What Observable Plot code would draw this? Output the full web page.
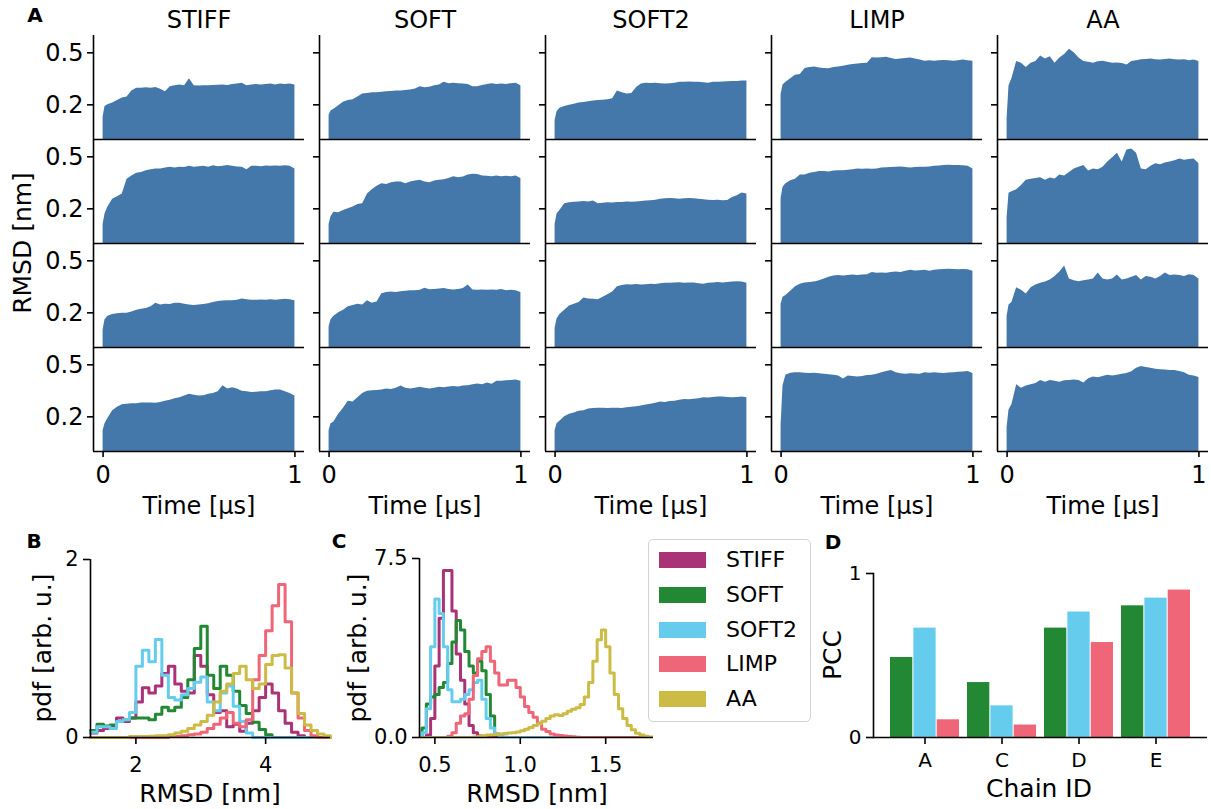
<!DOCTYPE html>
<html><head><meta charset="utf-8">
<script src="https://cdn.jsdelivr.net/npm/d3@7"></script>
<script src="https://cdn.jsdelivr.net/npm/@observablehq/plot@0.6"></script>
<style>
body{margin:0;background:#fff;}
#fig{position:relative;width:1211px;height:809px;overflow:hidden;font-family:"DejaVu Sans",sans-serif;color:#000;background:#fff;}
</style></head><body><div id="fig"></div>
<script>
// ---------- DATA ----------
const models = ["STIFF", "SOFT", "SOFT2", "LIMP", "AA"];
const modelColors = ["#AA3377", "#228833", "#66CCEE", "#EE6677", "#CCBB44"];
const runs = [1, 2, 3, 4];
const times = [0,0.01,0.025,0.05,0.075,0.1,0.125,0.15,0.175,0.2,0.225,0.25,0.275,0.3,0.325,0.35,0.375,0.4,0.425,0.45,0.475,0.5,0.525,0.55,0.575,0.6,0.625,0.65,0.675,0.7,0.725,0.75,0.775,0.8,0.825,0.85,0.875,0.9,0.925,0.95,0.975,1.0];

const rmsdStiff = [
  [0.13,0.19,0.2,0.21,0.225,0.24,0.245,0.28,0.295,0.295,0.298,0.295,0.3,0.29,0.275,0.305,0.31,0.315,0.31,0.35,0.31,0.308,0.31,0.31,0.312,0.313,0.315,0.312,0.318,0.32,0.325,0.31,0.315,0.318,0.315,0.318,0.32,0.315,0.32,0.318,0.32,0.315],
  [0.11,0.17,0.21,0.255,0.27,0.285,0.37,0.39,0.405,0.41,0.42,0.425,0.43,0.43,0.435,0.44,0.435,0.44,0.438,0.445,0.44,0.443,0.445,0.44,0.448,0.443,0.445,0.45,0.445,0.442,0.44,0.425,0.445,0.445,0.443,0.447,0.445,0.447,0.445,0.448,0.446,0.43],
  [0.1,0.16,0.18,0.19,0.195,0.197,0.198,0.205,0.215,0.22,0.225,0.235,0.255,0.245,0.25,0.248,0.255,0.255,0.25,0.245,0.243,0.245,0.248,0.252,0.26,0.265,0.268,0.27,0.27,0.272,0.28,0.275,0.273,0.272,0.274,0.272,0.275,0.272,0.276,0.278,0.275,0.27],
  [0.12,0.16,0.19,0.235,0.255,0.27,0.272,0.275,0.275,0.28,0.28,0.28,0.278,0.282,0.29,0.295,0.305,0.31,0.32,0.33,0.325,0.32,0.322,0.33,0.335,0.345,0.38,0.36,0.368,0.36,0.348,0.345,0.34,0.342,0.345,0.345,0.35,0.355,0.355,0.345,0.335,0.32]
];
const rmsdSoft = [
  [0.14,0.165,0.175,0.195,0.215,0.225,0.23,0.245,0.262,0.265,0.27,0.27,0.272,0.275,0.277,0.28,0.28,0.283,0.285,0.292,0.305,0.298,0.302,0.31,0.315,0.33,0.322,0.325,0.322,0.32,0.318,0.305,0.305,0.312,0.318,0.322,0.318,0.32,0.318,0.322,0.325,0.31],
  [0.11,0.155,0.18,0.178,0.19,0.2,0.21,0.225,0.23,0.285,0.31,0.33,0.345,0.34,0.35,0.355,0.355,0.345,0.355,0.36,0.365,0.355,0.35,0.36,0.365,0.368,0.375,0.385,0.38,0.383,0.395,0.4,0.398,0.39,0.388,0.385,0.39,0.385,0.388,0.385,0.39,0.375],
  [0.12,0.16,0.18,0.2,0.215,0.235,0.242,0.25,0.245,0.27,0.255,0.262,0.31,0.318,0.32,0.318,0.322,0.325,0.327,0.328,0.33,0.342,0.333,0.335,0.338,0.34,0.335,0.332,0.335,0.34,0.36,0.332,0.33,0.332,0.33,0.332,0.33,0.335,0.328,0.33,0.328,0.318],
  [0.12,0.16,0.17,0.215,0.25,0.29,0.285,0.31,0.335,0.348,0.35,0.352,0.355,0.36,0.358,0.365,0.378,0.365,0.36,0.365,0.37,0.365,0.36,0.365,0.37,0.368,0.372,0.375,0.372,0.378,0.38,0.385,0.39,0.385,0.395,0.388,0.405,0.405,0.408,0.41,0.412,0.405]
];
const rmsdSoft2 = [
  [0.11,0.16,0.18,0.19,0.197,0.203,0.21,0.213,0.218,0.222,0.225,0.227,0.23,0.235,0.28,0.27,0.262,0.265,0.3,0.32,0.325,0.323,0.325,0.322,0.32,0.322,0.325,0.33,0.33,0.332,0.33,0.33,0.328,0.325,0.33,0.33,0.332,0.333,0.335,0.335,0.337,0.337],
  [0.11,0.17,0.19,0.23,0.235,0.238,0.24,0.242,0.24,0.245,0.23,0.232,0.235,0.233,0.237,0.236,0.24,0.238,0.24,0.242,0.245,0.247,0.25,0.255,0.258,0.26,0.258,0.256,0.258,0.26,0.258,0.255,0.252,0.25,0.248,0.25,0.246,0.248,0.265,0.275,0.292,0.285],
  [0.11,0.165,0.19,0.215,0.24,0.25,0.26,0.285,0.28,0.278,0.275,0.29,0.305,0.32,0.35,0.358,0.362,0.36,0.363,0.36,0.362,0.365,0.363,0.368,0.37,0.37,0.372,0.373,0.37,0.372,0.372,0.368,0.365,0.37,0.372,0.375,0.372,0.375,0.378,0.38,0.378,0.37],
  [0.12,0.16,0.175,0.2,0.215,0.222,0.232,0.235,0.245,0.248,0.25,0.25,0.248,0.25,0.25,0.248,0.252,0.255,0.258,0.262,0.268,0.272,0.278,0.285,0.283,0.288,0.29,0.295,0.3,0.298,0.302,0.305,0.31,0.308,0.312,0.315,0.315,0.312,0.31,0.312,0.315,0.31]
];
const rmsdLimp = [
  [0.26,0.315,0.33,0.35,0.37,0.375,0.41,0.415,0.418,0.412,0.41,0.408,0.415,0.418,0.422,0.428,0.432,0.435,0.438,0.44,0.472,0.47,0.472,0.475,0.468,0.462,0.465,0.468,0.47,0.465,0.458,0.452,0.455,0.452,0.455,0.456,0.455,0.452,0.455,0.458,0.455,0.452],
  [0.26,0.325,0.345,0.362,0.37,0.395,0.395,0.405,0.41,0.415,0.415,0.412,0.418,0.42,0.42,0.422,0.425,0.43,0.428,0.43,0.428,0.43,0.435,0.437,0.438,0.44,0.442,0.438,0.435,0.438,0.44,0.44,0.442,0.445,0.447,0.45,0.452,0.45,0.45,0.448,0.445,0.43],
  [0.25,0.29,0.3,0.325,0.35,0.365,0.372,0.375,0.378,0.385,0.395,0.405,0.412,0.415,0.412,0.415,0.418,0.415,0.418,0.42,0.432,0.428,0.43,0.428,0.432,0.435,0.432,0.44,0.445,0.442,0.443,0.445,0.44,0.445,0.448,0.45,0.452,0.45,0.448,0.45,0.448,0.44],
  [0.15,0.38,0.44,0.452,0.455,0.455,0.452,0.45,0.452,0.448,0.445,0.443,0.44,0.435,0.418,0.435,0.432,0.43,0.432,0.438,0.44,0.445,0.455,0.462,0.468,0.455,0.448,0.445,0.448,0.447,0.445,0.455,0.452,0.455,0.452,0.45,0.453,0.455,0.457,0.458,0.462,0.45]
];
const rmsdAA = [
  [0.12,0.31,0.35,0.45,0.44,0.415,0.44,0.45,0.482,0.465,0.478,0.44,0.47,0.49,0.52,0.5,0.47,0.45,0.445,0.44,0.448,0.452,0.445,0.44,0.442,0.438,0.43,0.45,0.455,0.46,0.462,0.465,0.46,0.458,0.462,0.465,0.46,0.458,0.46,0.455,0.458,0.45],
  [0.15,0.29,0.298,0.31,0.335,0.365,0.37,0.375,0.38,0.365,0.378,0.372,0.395,0.39,0.41,0.43,0.44,0.45,0.418,0.43,0.425,0.44,0.47,0.495,0.52,0.47,0.54,0.545,0.52,0.43,0.425,0.445,0.46,0.455,0.465,0.47,0.478,0.488,0.48,0.485,0.488,0.46],
  [0.18,0.245,0.26,0.345,0.33,0.308,0.345,0.36,0.37,0.378,0.39,0.41,0.435,0.47,0.395,0.385,0.38,0.385,0.39,0.395,0.43,0.395,0.39,0.395,0.418,0.39,0.395,0.405,0.415,0.39,0.41,0.405,0.395,0.41,0.43,0.415,0.418,0.415,0.41,0.42,0.415,0.395],
  [0.14,0.24,0.27,0.385,0.365,0.378,0.385,0.392,0.41,0.4,0.41,0.405,0.4,0.408,0.41,0.412,0.41,0.395,0.42,0.43,0.425,0.432,0.44,0.435,0.44,0.445,0.45,0.46,0.48,0.49,0.485,0.48,0.475,0.472,0.47,0.468,0.468,0.462,0.455,0.44,0.435,0.427]
];

// Panel B histograms (bin left edges; last value closes the step)
const bEdges = [1.3,1.4,1.5,1.6,1.7,1.8,1.9,2.0,2.1,2.2,2.3,2.4,2.5,2.6,2.7,2.8,2.9,3.0,3.1,3.2,3.3,3.4,3.5,3.6,3.7,3.8,3.9,4.0,4.1,4.2,4.3,4.4,4.5,4.6,4.7,4.8,4.9,5.0];
const bStiff = [0.05,0.08,0.1,0.12,0.22,0.18,0.22,0.4,0.56,0.5,0.58,0.72,0.8,0.6,0.52,0.5,0.92,0.8,0.48,0.28,0.3,0.12,0.15,0.07,0.16,0.3,0.45,0.6,0.5,0.3,0.16,0.06,0.02,0,0,0,0,0];
const bSoft = [0.08,0.15,0.13,0.14,0.18,0.2,0.22,0.22,0.22,0.2,0.26,0.34,0.3,0.34,0.45,0.65,1.0,1.25,0.7,0.55,0.8,0.7,0.52,0.36,0.27,0.17,0.09,0.03,0,0,0,0,0,0,0,0,0,0];
const bSoft2 = [0.06,0.12,0.12,0.1,0.18,0.2,0.28,0.8,0.98,0.85,1.1,0.7,0.45,0.42,0.48,0.55,0.62,0.68,0.4,0.3,0.5,0.58,0.35,0.18,0.05,0,0,0,0,0,0,0,0,0,0,0,0,0];
const bLimp = [0,0,0,0,0,0,0,0,0,0,0,0,0.01,0.01,0.02,0.03,0.04,0.06,0.1,0.15,0.22,0.28,0.16,0.12,0.2,0.65,0.92,1.2,1.48,1.72,1.3,0.5,0.22,0.08,0.02,0,0,0];
const bAA = [0,0,0,0,0,0,0.01,0.01,0.01,0.015,0.02,0.02,0.03,0.05,0.07,0.1,0.14,0.18,0.25,0.4,0.52,0.6,0.72,0.8,0.65,0.55,0.6,0.82,0.92,0.93,0.78,0.5,0.27,0.14,0.08,0.04,0.02,0];

// Panel C histograms
const cEdges = [0.4,0.425,0.45,0.475,0.5,0.525,0.55,0.575,0.6,0.625,0.65,0.675,0.7,0.725,0.75,0.775,0.8,0.825,0.85,0.875,0.9,0.925,0.95,0.975,1.0,1.025,1.05,1.075,1.1,1.125,1.15,1.175,1.2,1.225,1.25,1.275,1.3,1.325,1.35,1.375,1.4,1.425,1.45,1.475,1.5,1.525,1.55,1.575,1.6,1.625,1.65,1.675,1.7,1.725,1.75,1.775,1.8];
const cStiff = [0,0,0.1,0.8,3.0,5.0,7.0,7.0,5.3,3.5,2.4,1.4,0.5,0.2,0.06,0.02,0,0,0,0,0,0,0,0,0,0,0,0,0,0,0,0,0,0,0,0,0,0,0,0,0,0,0,0,0,0,0,0,0,0,0,0,0,0,0,0,0];
const cSoft = [0,0.4,1.4,1.7,1.8,2.1,2.3,3.1,4.0,4.9,4.5,3.6,3.0,2.7,3.2,2.8,1.8,0.9,0.15,0.03,0,0,0,0,0,0,0,0,0,0,0,0,0,0,0,0,0,0,0,0,0,0,0,0,0,0,0,0,0,0,0,0,0,0,0,0,0];
const cSoft2 = [0,0.2,1.2,3.8,5.8,5.2,3.8,2.0,1.5,1.5,1.6,1.8,2.0,2.3,2.4,1.6,0.8,0.4,0.15,0.05,0.02,0,0,0,0,0,0,0,0,0,0,0,0,0,0,0,0,0,0,0,0,0,0,0,0,0,0,0,0,0,0,0,0,0,0,0,0];
const cLimp = [0,0,0,0,0,0,0,0.05,0.2,0.6,0.9,1.0,1.6,2.6,3.3,3.6,3.8,3.2,2.7,2.2,2.2,2.4,2.4,2.1,1.7,1.3,1.05,0.85,0.6,0.35,0.25,0.15,0.1,0.08,0.06,0.04,0.03,0.01,0,0,0,0,0,0,0,0,0,0,0,0,0,0,0,0,0,0,0];
const cAA = [0,0,0,0,0,0,0,0,0,0,0,0,0,0.02,0.04,0.07,0.1,0.12,0.13,0.15,0.17,0.19,0.2,0.23,0.28,0.35,0.42,0.5,0.58,0.68,0.8,0.9,0.95,0.92,1.0,1.1,1.18,1.25,1.38,1.7,2.3,3.2,4.1,4.5,3.8,2.7,1.8,1.2,0.8,0.5,0.32,0.18,0.1,0.05,0.02,0.01,0];

// Panel D
const chains = ["A", "C", "D", "E"];
const pccModels = ["SOFT", "SOFT2", "LIMP"];
const pccSoft = [0.488, 0.335, 0.667, 0.803];
const pccSoft2 = [0.667, 0.193, 0.765, 0.85];
const pccLimp = [0.108, 0.076, 0.579, 0.899];

// ---------- BUILD ----------
const fig = document.getElementById("fig");
const FONT = "DejaVu Sans";
const baseStyle = {fontFamily: FONT, fontSize: "20px", color: "#000", background: "none", overflow: "visible"};
const SPINE = 1.6;
const plain = d => String(d);

function place(node, left, top) {
  node.style.position = "absolute";
  node.style.left = left + "px";
  node.style.top = top + "px";
  fig.appendChild(node);
}
function addText(txt, x, y, size, opt = {}) {
  const d = document.createElement("div");
  d.textContent = txt;
  d.style.cssText = `position:absolute;left:${x}px;top:${y}px;font-size:${size}px;font-weight:${opt.weight || "normal"};white-space:nowrap;line-height:1;transform:translate(-50%,-50%)${opt.rotate ? " rotate(-90deg)" : ""};`;
  fig.appendChild(d);
}

// Panel A
const rmsdByModel = [rmsdStiff, rmsdSoft, rmsdSoft2, rmsdLimp, rmsdAA];
const rmsdRows = [];
models.forEach((m, i) => rmsdByModel[i].forEach((vals, r) =>
  vals.forEach((v, k) => rmsdRows.push({model: m, run: runs[r], t: times[k], v}))));

const plotA = Plot.plot({
  width: 1211, height: 530,
  marginLeft: 91, marginRight: 0, marginTop: 33, marginBottom: 78,
  style: {...baseStyle, fontSize: "24px"},
  fx: {domain: models, paddingInner: 0.066, paddingOuter: 0, label: null},
  fy: {domain: runs, paddingInner: 0, paddingOuter: 0, axis: null, label: null},
  x: {domain: [-0.05, 1.05]},
  y: {domain: [0, 0.6]},
  marks: [
    Plot.areaY(rmsdRows, {fx: "model", fy: "run", x: "t", y: "v", fill: "#4477aa"}),
    Plot.ruleX([-0.05], {stroke: "#000", strokeWidth: SPINE}),
    Plot.ruleY([0], {stroke: "#000", strokeWidth: SPINE}),
    Plot.axisY({ticks: [0.2, 0.5], tickFormat: () => "", facetAnchor: null, tickSize: 6, strokeWidth: SPINE, label: null}),
    Plot.axisY({ticks: [0.2, 0.5], tickFormat: plain, tickSize: 0, tickPadding: 10, fontSize: 24, label: null}),
    Plot.axisX({ticks: [0, 1], tickFormat: plain, tickSize: 6, tickPadding: 8, fontSize: 24, strokeWidth: SPINE, label: null}),
    Plot.axisFx({anchor: "top", tickSize: 0, tickPadding: 8, fontSize: 24, label: null}),
    Plot.text(["Time [µs]"], {text: d => d, frameAnchor: "bottom", lineAnchor: "middle", dy: 55, facetAnchor: "bottom", fontSize: 24})
  ]
});
place(plotA, 0, 0);

// Panel B
const bVals = [bStiff, bSoft, bSoft2, bLimp, bAA];
const histB = [];
models.forEach((m, i) => bVals[i].forEach((v, k) => histB.push({model: m, x: bEdges[k], y: v})));
const plotB = Plot.plot({
  width: 340, height: 279,
  marginLeft: 90, marginRight: 10, marginTop: 29, marginBottom: 72,
  style: baseStyle,
  x: {domain: [1.3, 5.0]},
  y: {domain: [0, 2]},
  color: {domain: models, range: modelColors},
  marks: [
    Plot.line(histB, {x: "x", y: "y", z: "model", stroke: "model", curve: "step-after", strokeWidth: 3}),
    Plot.ruleX([1.3], {stroke: "#000", strokeWidth: SPINE}),
    Plot.ruleY([0], {stroke: "#000", strokeWidth: SPINE}),
    Plot.axisX({ticks: [2, 4], tickFormat: plain, tickSize: 7, tickPadding: 13, fontSize: 21, strokeWidth: SPINE, label: null}),
    Plot.axisY({ticks: [0, 2], tickFormat: plain, tickSize: 7, tickPadding: 5, fontSize: 21, strokeWidth: SPINE, label: null})
  ]
});
place(plotB, 0, 530);

// Panel C
const cVals = [cStiff, cSoft, cSoft2, cLimp, cAA];
const histC = [];
models.forEach((m, i) => cVals[i].forEach((v, k) => histC.push({model: m, x: cEdges[k], y: v})));
const plotC = Plot.plot({
  width: 330, height: 279,
  marginLeft: 89, marginRight: 7, marginTop: 28, marginBottom: 72,
  style: baseStyle,
  x: {domain: [0.41, 1.78]},
  y: {domain: [0, 7.5]},
  color: {domain: models, range: modelColors},
  marks: [
    Plot.line(histC, {x: "x", y: "y", z: "model", stroke: "model", curve: "step-after", strokeWidth: 3, clip: true}),
    Plot.ruleX([0.41], {stroke: "#000", strokeWidth: SPINE}),
    Plot.ruleY([0], {stroke: "#000", strokeWidth: SPINE}),
    Plot.axisX({ticks: [0.5, 1.0, 1.5], tickFormat: d => d.toFixed(1), tickSize: 7, tickPadding: 13, fontSize: 21, strokeWidth: SPINE, label: null}),
    Plot.axisY({ticks: [0, 7.5], tickFormat: d => d.toFixed(1), tickSize: 7, tickPadding: 5, fontSize: 21, strokeWidth: SPINE, label: null})
  ]
});
place(plotC, 330, 530);

// Legend
const legend = document.createElement("div");
legend.style.cssText = "width:161px;height:181px;border:1px solid #d3d3d3;border-radius:5px;background:rgba(255,255,255,0.85);";
models.forEach((m, i) => {
  const sw = document.createElement("div");
  sw.style.cssText = `position:absolute;left:10px;top:${12 + i * 34.75}px;width:47px;height:16px;background:${modelColors[i]};`;
  const tx = document.createElement("div");
  tx.textContent = m;
  tx.style.cssText = `position:absolute;left:77px;top:${20 + i * 34.75}px;font-size:22px;line-height:1;transform:translateY(-50%);white-space:nowrap;`;
  legend.appendChild(sw); legend.appendChild(tx);
});
place(legend, 648, 539);

// Panel D
const pccVals = [pccSoft, pccSoft2, pccLimp];
const pccRows = [];
pccModels.forEach((m, i) => chains.forEach((c, k) => pccRows.push({model: m, chain: c, v: pccVals[i][k]})));
const dW = 371, dML = 33, dMR = 4, padIn = 0.1, padOut = 0.195;
const stepD = (dW - dML - dMR) / (chains.length - padIn + 2 * padOut);
const barW = stepD * (1 - padIn) / pccModels.length;
const barOpts = (m, j) => ({x: "chain", y: "v", fill: "model", insetLeft: j * barW, insetRight: (pccModels.length - 1 - j) * barW});
const plotD = Plot.plot({
  width: dW, height: 279,
  marginLeft: dML, marginRight: dMR, marginTop: 43, marginBottom: 72,
  style: baseStyle,
  x: {domain: chains, paddingInner: padIn, paddingOuter: padOut, align: 0.5},
  y: {domain: [0, 1]},
  color: {domain: models, range: modelColors},
  marks: [
    ...pccModels.map((m, j) => Plot.barY(pccRows.filter(d => d.model === m), barOpts(m, j))),
    Plot.ruleY([0], {stroke: "#000", strokeWidth: SPINE}),
    Plot.frame({anchor: "left", stroke: "#000", strokeWidth: SPINE}),
    Plot.axisX({tickSize: 7, tickPadding: 8, fontSize: 20, strokeWidth: SPINE, label: null}),
    Plot.axisY({ticks: [0, 1], tickFormat: plain, tickSize: 7, tickPadding: 5, fontSize: 20, strokeWidth: SPINE, label: null})
  ]
});
place(plotD, 840, 530);

// Labels
addText("A", 35, 15, 20, {weight: "bold"});
addText("B", 34, 541, 20, {weight: "bold"});
addText("C", 339, 541, 20, {weight: "bold"});
addText("D", 833, 542, 20, {weight: "bold"});
addText("RMSD [nm]", 22, 243, 25, {rotate: true});
addText("pdf [arb. u.]", 42, 648, 25, {rotate: true});
addText("pdf [arb. u.]", 357, 648, 25, {rotate: true});
addText("PCC", 832, 655, 25, {rotate: true});
addText("RMSD [nm]", 210, 793, 25);
addText("RMSD [nm]", 537, 793, 25);
addText("Chain ID", 1039, 788, 25);
</script>
</body></html>
